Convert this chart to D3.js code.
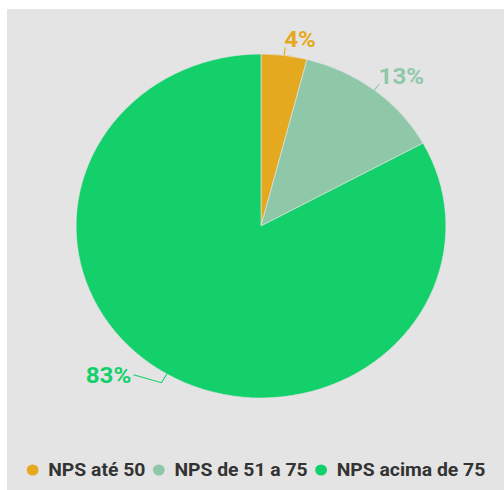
<!DOCTYPE html>
<html>
<head>
<meta charset="utf-8">
<script src="https://cdn.jsdelivr.net/npm/d3@7"></script>
<style>
  body { margin: 0; background: #fff; }
  text { font-family: Roboto, 'Noto Sans', sans-serif; }
</style>
</head>
<body>
<svg id="chart"></svg>
<script>
const width = 504
const height = 490

// data
const categories = ['NPS até 50', 'NPS de 51 a 75', 'NPS acima de 75']
const values = [4, 13, 83]
const colors = ['#e4a91f', '#8fc8a9', '#13d06b']

const svg = d3.select('#chart').attr('width', width).attr('height', height)

// grey panel behind the chart
svg.append('rect')
  .attr('x', 7).attr('y', 9)
  .attr('width', width - 7).attr('height', height - 9)
  .attr('fill', '#e4e4e4')

const radius = 172
const stretch = 1.075 // the picture is a bit wider than tall

const data = categories.map((c, i) => ({ name: c, value: values[i], color: colors[i] }))

const pie = d3.pie().sort(null).value((d) => d.value)
const arc = d3.arc().innerRadius(0).outerRadius(radius)
const arcs = pie(data)

const wrapper = svg.append('g').attr('transform', `translate(261,226) scale(${stretch},1)`)

wrapper.selectAll('path.slice')
  .data(arcs)
  .join('path')
  .attr('class', 'slice')
  .attr('d', arc)
  .attr('fill', (d) => d.data.color)
  .attr('stroke', '#e4e4e4')
  .attr('stroke-width', 0.6)

const pointAt = (a, r) => [r * Math.sin(a), -r * Math.cos(a)]

// leader lines and percentage labels
arcs.forEach((d) => {
  const mid = (d.startAngle + d.endAngle) / 2
  const right = Math.sin(mid) >= 0
  const p0 = pointAt(mid, radius)
  const p1 = pointAt(mid, radius + (right ? 8 : 10))
  const p2 = right ? p1 : [p1[0] - 26, p1[1] - 8]

  wrapper.append('path')
    .attr('d', d3.line()([p0, p1, p2]))
    .attr('fill', 'none')
    .attr('stroke', d.data.color)
    .attr('stroke-width', 1)

  wrapper.append('text')
    .attr('x', p2[0] + (right ? -1 : -2))
    .attr('y', p2[1] + (right ? -8 : 0))
    .attr('dy', '0.35em')
    .attr('text-anchor', right ? 'start' : 'end')
    .attr('font-size', 22.5)
    .attr('font-weight', 'bold')
    .attr('fill', d.data.color)
    .text(`${d.data.value}%`)
})

// legend
const legend = svg.append('g').attr('transform', `translate(256,470) scale(${stretch},1)`)
const items = legend.selectAll('g')
  .data(data)
  .join('g')

items.append('circle')
  .attr('r', 5.5)
  .attr('fill', (d) => d.color)

items.append('text')
  .attr('x', 14.5)
  .attr('dy', '0.35em')
  .attr('font-size', 18)
  .attr('font-weight', 'bold')
  .attr('fill', '#333')
  .text((d) => d.name)

let xPos = 0
const offsets = []
items.each(function () {
  offsets.push(xPos)
  const w = d3.select(this).select('text').node().getComputedTextLength()
  xPos += 14.5 + w + 12.5
})
const total = xPos - 12.5 + 5.5
const startX = -total / 2 + 5.5
items.attr('transform', (d, i) => `translate(${startX + offsets[i]},0)`)
</script>
</body>
</html>
